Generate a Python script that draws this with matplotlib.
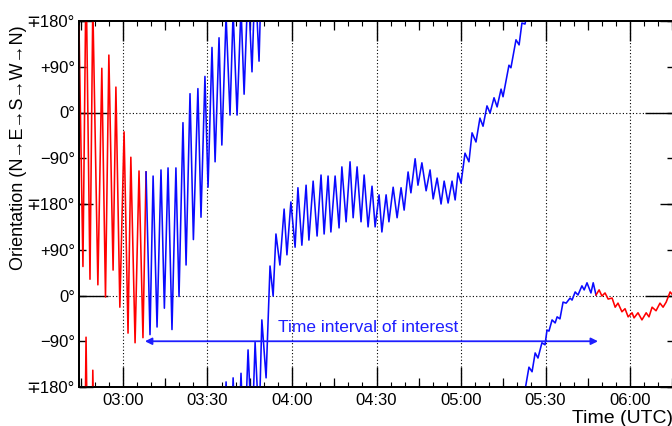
import numpy as np
import matplotlib
matplotlib.use('Agg')
import matplotlib.pyplot as plt
from matplotlib.ticker import FixedLocator, FixedFormatter, NullFormatter

plt.rcParams['font.family'] = ['Liberation Sans', 'DejaVu Sans']

# time in minutes after 00:00 UTC, orientation in degrees (unwrapped, shown modulo 720)
t_red1 = [164.4, 165.8, 166.9, 168.3, 169.3, 171.1, 172.5, 173.8, 175.0, 176.5,
          177.5, 178.9, 180.4, 181.8, 182.8, 184.3, 185.7, 187.1, 188.2]
v_red1 = [170, -303, 278, -328, 213, -339, 87, -363, 113, -310,
          50, -383, -38, -434, -88, -453, -115, -443, -117]

t_blue = [188.2, 189.6, 190.7, 192.1, 193.5, 194.7, 196.0, 197.4, 198.8, 199.9,
          201.3, 202.4, 203.8, 205.0, 206.6, 207.7, 209.1, 210.2, 211.6, 212.7,
          214.1, 215.1, 216.6, 218.0, 219.1, 220.5, 221.9, 223.0, 224.4, 225.8,
          226.9, 228.3, 229.3, 230.8, 232.2, 233.3, 234.3, 235.7, 237.2, 238.2,
          239.6, 241.1, 242.1, 243.5, 245.0, 246.0, 247.5, 248.9, 250.3, 251.4,
          252.8, 253.8, 255.3, 256.7, 257.7, 259.2, 260.6, 261.7, 263.1, 264.5,
          265.6, 267.0, 268.4, 269.5, 270.9, 271.9, 273.4, 274.4, 275.9, 277.3,
          278.7, 279.8, 281.2, 282.2, 283.7, 284.7, 286.1, 287.6, 289.0, 290.1,
          291.5, 292.9, 294.0, 295.4, 296.8, 297.9, 298.9, 300.0, 301.4, 302.8,
          303.9, 305.3, 306.7, 307.8, 309.2, 310.3, 311.7, 312.8, 314.2, 314.9,
          317.0, 317.7, 319.5, 320.6, 321.6, 322.7, 324.1, 325.2, 326.3, 327.3,
          328.7, 329.8, 330.5, 331.2, 332.3, 333.4, 334.1, 335.1, 336.2, 337.3,
          338.7, 339.4, 340.5, 341.5, 342.9, 343.7, 344.7, 346.1, 346.9, 347.9]
v_blue = [-117, -437, -125, -422, -113, -385, -109, -427, -109, -362,
          -20, -300, 37, -250, 47, -206, 71, -147, 128, -97,
          147, -64, 190, -5, 198, -5, 207, 36, 253, 80,
          268, 101, 312, 198, 418, 359, 481, 420, 530, 440,
          544, 455, 572, 459, 577, 469, 585, 477, 597, 481,
          595, 485, 595, 493, 613, 505, 623, 513, 613, 505,
          597, 495, 575, 495, 558, 485, 558, 505, 573, 513,
          572, 528, 603, 562, 629, 577, 621, 566, 607, 550,
          591, 540, 585, 542, 585, 548, 601, 581, 640, 623,
          680, 662, 709, 693, 733, 719, 749, 731, 766, 751,
          813, 808, 863, 853, 896, 894, 939, 930, 967, 957,
          987, 983, 1012, 1010, 1032, 1026, 1038, 1034, 1067, 1065,
          1075, 1071, 1087, 1081, 1099, 1091, 1105, 1085, 1105, 1081]

t_red2 = [347.9, 349.0, 350.0, 351.1, 352.2, 353.6, 354.7, 355.7, 357.1, 358.2,
          359.3, 360.7, 361.4, 362.8, 364.2, 365.7, 366.7, 367.8, 369.2, 370.6,
          371.7, 372.8, 374.2, 375.4]
v_red2 = [1081, 1091, 1079, 1085, 1073, 1075, 1057, 1065, 1048, 1054,
          1038, 1046, 1036, 1046, 1032, 1046, 1038, 1057, 1050, 1065,
          1057, 1067, 1087, 1079]

interval = [187.8, 348.6]
interval_level = -450

y_ticks = [-540, -450, -360, -270, -180, -90, 0, 90, 180]
y_labels = ['\u2213180°', '\u221290°', '0°', '+90°', '\u2213180°',
            '\u221290°', '0°', '+90°', '\u2213180°']
x_major = [180, 210, 240, 270, 300, 330, 360]
x_labels = ['03:00', '03:30', '04:00', '04:30', '05:00', '05:30', '06:00']

fig = plt.figure(figsize=(6.72, 4.26), dpi=100)
ax = fig.add_axes([79 / 672, 39 / 426, 594.5 / 672, 366 / 426])
ax2 = ax.twinx()
ax3 = ax.twiny()
ax.set_zorder(3)
ax.patch.set_visible(False)

for a in (ax, ax2, ax3):
    a.set_xlim(164.4, 375.4)
    a.set_ylim(-540, 180)

for t, v, c in [(t_red1, v_red1, '#ff0000'), (t_blue, v_blue, '#0a0aff'),
                (t_red2, v_red2, '#ff0000')]:
    v = np.array(v, dtype=float)
    for k in (0, -720, -1440):
        ax.plot(t, v + k, color=c, lw=1.15, solid_joinstyle='round')

ax.annotate('', xy=(interval[1], interval_level), xytext=(interval[0], interval_level),
            arrowprops=dict(arrowstyle='<|-|>', color='#1e1eff', lw=1.3,
                            mutation_scale=10, shrinkA=0, shrinkB=0))
ax.text(235.0, -422, 'Time interval of interest', color='#1e1eff',
        fontsize=12.5, va='center', ha='left')

# main axes: labelled ticks
ax.xaxis.set_major_locator(FixedLocator(x_major))
ax.xaxis.set_major_formatter(FixedFormatter(x_labels))
ax.xaxis.set_minor_locator(FixedLocator(np.arange(165, 376, 5)))
ax.yaxis.set_major_locator(FixedLocator(y_ticks))
ax.yaxis.set_major_formatter(FixedFormatter(y_labels))
ax.tick_params(axis='x', which='major', direction='in', length=14.4, width=1,
               top=True, bottom=True, labelsize=12, pad=4)
ax.tick_params(axis='x', which='minor', direction='in', length=3.3, width=0.8,
               top=True, bottom=True)
ax.tick_params(axis='y', which='major', direction='in', length=4.7, width=1,
               left=True, right=True, labelsize=12, pad=3)
ax.grid(True, axis='x', which='major', linestyle=(0, (1, 2)), color='black', lw=0.8)

# extra tick levels
ax2.yaxis.set_major_locator(FixedLocator([-360, 0]))
ax2.yaxis.set_minor_locator(FixedLocator([-540, -180, 180]))
ax2.yaxis.set_ticks_position('both')
ax2.tick_params(axis='y', which='major', direction='in', length=21, width=1,
                labelleft=False, labelright=False)
ax2.tick_params(axis='y', which='minor', direction='in', length=10, width=1)
ax2.yaxis.set_minor_formatter(NullFormatter())
ax2.grid(True, axis='y', which='major', linestyle=(0, (1, 2)), color='black', lw=0.8)

ax3.xaxis.set_major_locator(FixedLocator(np.arange(165, 376, 30)))
ax3.xaxis.set_ticks_position('both')
ax3.tick_params(axis='x', which='major', direction='in', length=6.5, width=0.9,
                labeltop=False, labelbottom=False)

for a in (ax, ax2, ax3):
    for s in a.spines.values():
        s.set_linewidth(1.2)

ax.set_ylabel('Orientation (N\u2192E\u2192S\u2192W\u2192N)', fontsize=13)
ax.yaxis.set_label_coords(-0.087, 0.655)
ax.set_xlabel('Time (UTC)', fontsize=14, ha='right')
ax.xaxis.set_label_coords(0.999, -0.064)

fig.savefig('out.png', dpi=100)
